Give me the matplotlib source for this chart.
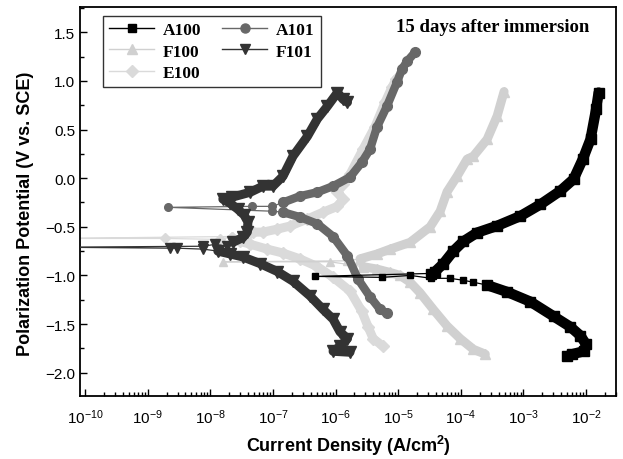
import numpy as np
import matplotlib
matplotlib.use('Agg')
import matplotlib.pyplot as plt
from matplotlib.lines import Line2D
from matplotlib.ticker import FixedLocator, NullFormatter, MultipleLocator, LogFormatterSciNotation

plt.rcParams['font.family'] = ['Liberation Sans', 'DejaVu Sans']
plt.rcParams['mathtext.fontset'] = 'custom'
plt.rcParams['mathtext.rm'] = 'Liberation Sans'
plt.rcParams['mathtext.bf'] = 'Liberation Sans:bold'
plt.rcParams['mathtext.default'] = 'regular'

# ---------------- data: log10(current density, A/cm2) and potential (V vs SCE) ----------------
# A100
a100_sparse_logi = [-3.58, -3.80, -3.96, -4.17, -4.47, -4.81, -5.26, -6.33, -4.50, -4.47]
a100_sparse_v = [-1.10, -1.07, -1.05, -1.03, -1.03, -1.00, -1.02, -1.01, -0.98, -0.99]
a100_anod_logi = [-4.47, -4.41, -4.28, -4.12, -3.96, -3.74, -3.42, -3.05, -2.73, -2.41, -2.20, -2.05, -1.93, -1.84, -1.80]
a100_anod_v = [-0.99, -0.96, -0.88, -0.75, -0.65, -0.56, -0.49, -0.39, -0.27, -0.13, -0.01, 0.20, 0.40, 0.71, 0.88]
a100_cath_logi = [-3.58, -3.26, -2.89, -2.52, -2.25, -2.09, -2.00, -2.04, -2.22, -2.30]
a100_cath_v = [-1.10, -1.17, -1.27, -1.42, -1.53, -1.62, -1.71, -1.78, -1.81, -1.83]

# A101
a101_sparse_logi = [-6.84, -7.01, -8.67, -7.33, -7.01, -6.84]
a101_sparse_v = [-0.35, -0.34, -0.30, -0.29, -0.29, -0.25]
a101_anod_logi = [-6.84, -6.57, -6.29, -6.04, -5.77, -5.58, -5.45, -5.34, -5.18, -5.02, -4.94, -4.86, -4.73]
a101_anod_v = [-0.25, -0.185, -0.144, -0.082, 0.01, 0.164, 0.298, 0.524, 0.74, 0.987, 1.12, 1.20, 1.295]
a101_cath_logi = [-6.84, -6.57, -6.29, -6.04, -5.81, -5.64, -5.45, -5.29, -5.18]
a101_cath_v = [-0.35, -0.40, -0.47, -0.60, -0.80, -1.04, -1.22, -1.35, -1.39]

# F100
f100_sparse_logi = [-5.56, -6.09, -7.80, -5.81, -5.61]
f100_sparse_v = [-0.91, -0.86, -0.86, -0.85, -0.83]
f100_anod_logi = [-5.61, -5.34, -5.13, -4.81, -4.49, -4.33, -4.22, -4.06, -3.90, -3.80, -3.58, -3.42, -3.31]
f100_anod_v = [-0.83, -0.78, -0.73, -0.66, -0.50, -0.34, -0.14, 0.02, 0.195, 0.226, 0.40, 0.64, 0.89]
f100_cath_logi = [-5.56, -5.34, -5.13, -4.97, -4.81, -4.65, -4.44, -4.22, -4.01, -3.80, -3.61]
f100_cath_v = [-0.91, -0.935, -0.97, -1.00, -1.07, -1.18, -1.35, -1.52, -1.65, -1.76, -1.81]

# F101
f101_sparse_logi = [-7.88, -8.11, -8.53, -8.64, -10.5, -8.11, -7.92, -7.73, -7.64]
f101_sparse_v = [-0.75, -0.73, -0.72, -0.72, -0.71, -0.70, -0.68, -0.70, -0.66]
f101_anod_logi = [-7.64, -7.48, -7.41, -7.40, -7.46, -7.56, -7.68, -7.80, -7.65, -7.36, -7.16, -7.00,
                  -6.84, -6.68, -6.45, -6.29, -6.13, -5.97, -5.88, -5.81]
f101_anod_v = [-0.66, -0.61, -0.555, -0.45, -0.38, -0.32, -0.26, -0.216, -0.195, -0.144, -0.082, -0.082,
               0.02, 0.226, 0.43, 0.61, 0.74, 0.88, 0.81, 0.78]
f101_cath_logi = [-7.88, -7.68, -7.48, -7.20, -6.93, -6.68, -6.41, -6.20, -6.04, -5.93, -5.81, -5.93, -6.04, -5.77]
f101_cath_v = [-0.75, -0.78, -0.81, -0.88, -0.96, -1.06, -1.21, -1.35, -1.45, -1.58, -1.65, -1.73, -1.78, -1.79]

# E100
e100_sparse_logi = [-7.52, -7.65, -7.84, -8.72, -10.5, -7.65, -7.48]
e100_sparse_v = [-0.65, -0.60, -0.63, -0.62, -0.62, -0.60, -0.63]
e100_anod_logi = [-7.48, -7.32, -7.16, -6.93, -6.73, -6.45, -6.20, -5.97, -5.88, -5.97, -5.88, -5.77,
                  -5.56, -5.37, -5.21, -5.10, -5.03]
e100_anod_v = [-0.63, -0.555, -0.555, -0.524, -0.493, -0.42, -0.35, -0.29, -0.216, -0.144, -0.06, 0.04,
               0.30, 0.53, 0.78, 0.935, 1.02]
e100_cath_logi = [-7.52, -7.36, -7.09, -6.84, -6.57, -6.29, -6.04, -5.77, -5.58, -5.48, -5.40, -5.24]
e100_cath_v = [-0.65, -0.68, -0.73, -0.77, -0.83, -0.91, -1.02, -1.16, -1.37, -1.53, -1.65, -1.73]

series_names = ['A100', 'F100', 'E100', 'A101', 'F101']
title_text = '15 days after immersion'
x_major_exponents = [-10, -9, -8, -7, -6, -5, -4, -3, -2]

# ---------------- figure ----------------
fig = plt.figure(figsize=(6.23, 4.60), dpi=100)
ax = fig.add_axes([80 / 623, 1 - 397 / 460, 536 / 623, 389 / 460])

styles = {
    'A100': dict(color='#000000', marker='s', ms=5.0, band=7.5),
    'A101': dict(color='#686868', marker='o', ms=5.5, band=6.0),
    'F100': dict(color='#d0d0d0', marker='^', ms=6.0, band=6.5),
    'F101': dict(color='#333333', marker='v', ms=6.5, band=6.5),
    'E100': dict(color='#dadada', marker='D', ms=5.0, band=6.5),
}

data = {
    'E100': (e100_sparse_logi, e100_sparse_v, e100_anod_logi, e100_anod_v, e100_cath_logi, e100_cath_v),
    'F100': (f100_sparse_logi, f100_sparse_v, f100_anod_logi, f100_anod_v, f100_cath_logi, f100_cath_v),
    'A101': (a101_sparse_logi, a101_sparse_v, a101_anod_logi, a101_anod_v, a101_cath_logi, a101_cath_v),
    'F101': (f101_sparse_logi, f101_sparse_v, f101_anod_logi, f101_anod_v, f101_cath_logi, f101_cath_v),
    'A100': (a100_sparse_logi, a100_sparse_v, a100_anod_logi, a100_anod_v, a100_cath_logi, a100_cath_v),
}

z = 2
for name in ['E100', 'F100', 'A101', 'F101', 'A100']:
    st = styles[name]
    sl, sv, al, av, cl, cv = data[name]
    for li, vi in ((al, av), (cl, cv)):
        x = 10.0 ** np.array(li)
        ax.plot(x, vi, color=st['color'], lw=st['band'], solid_capstyle='round',
                solid_joinstyle='round', marker=st['marker'], ms=st['ms'] + 1.5,
                mec=st['color'], mfc=st['color'], zorder=z)
    ax.plot(10.0 ** np.array(sl), sv, color=st['color'], lw=0.9, marker=st['marker'],
            ms=st['ms'], mec=st['color'], mfc=st['color'], zorder=z)
    z += 1

ax.set_xscale('log')
ax.set_xlim(8.3e-11, 3.0e-2)
ax.set_ylim(-2.24, 1.76)

major_x = [10.0 ** e for e in x_major_exponents]
minor_x = [m * 10.0 ** e for e in x_major_exponents for m in range(2, 10)]
ax.xaxis.set_major_locator(FixedLocator(major_x))
ax.xaxis.set_major_formatter(LogFormatterSciNotation())
ax.xaxis.set_minor_locator(FixedLocator(minor_x))
ax.xaxis.set_minor_formatter(NullFormatter())
ax.yaxis.set_major_locator(MultipleLocator(0.5))
ax.yaxis.set_minor_locator(MultipleLocator(0.25))

ax.tick_params(which='both', direction='in', top=False, right=False, labelsize=11, width=1.0)
ax.tick_params(which='major', length=5)
ax.tick_params(which='minor', length=3)
ax.tick_params(axis='x', pad=8)
for s in ax.spines.values():
    s.set_linewidth(1.3)

ax.set_xlabel(r'Current Density (A/cm$^{\mathbf{2}}$)', fontsize=13, fontweight='bold', labelpad=5)
ax.set_ylabel('Polarization Potential (V vs. SCE)', fontsize=13, fontweight='bold')
ax.yaxis.set_label_coords(-0.086, 0.47)

ax.text(0.77, 0.949, title_text, transform=ax.transAxes, ha='center', va='center',
        fontsize=13.5, fontweight='bold', family='Liberation Serif')

handles = [Line2D([], [], color=styles[n]['color'], lw=1.0, marker=styles[n]['marker'],
                  ms=styles[n]['ms'] + 1, mec=styles[n]['color'], mfc=styles[n]['color'])
           for n in series_names]
leg = ax.legend(handles, series_names, ncol=2, loc='upper left', bbox_to_anchor=(0.043, 0.977),
                borderaxespad=0, frameon=True, fancybox=False, edgecolor='black',
                prop={'family': 'Liberation Serif', 'weight': 'bold', 'size': 12.5},
                handlelength=2.6, handletextpad=0.5, columnspacing=1.2, labelspacing=0.3,
                borderpad=0.35)
leg.get_frame().set_linewidth(1.0)

fig.savefig('out.png', dpi=100)
